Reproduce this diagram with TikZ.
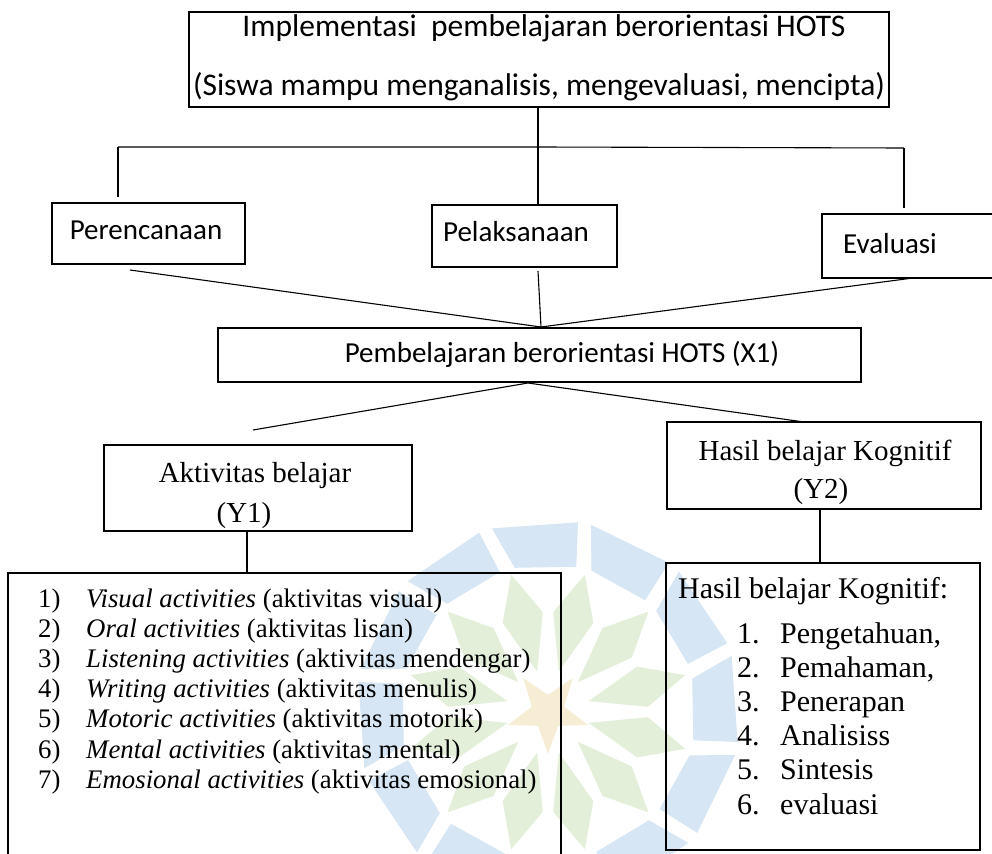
\documentclass[tikz,border=0pt]{standalone}
\usepackage{fontspec}
\setmainfont{Liberation Serif}
\newfontfamily\calibri{Carlito}
\usetikzlibrary{calc}
\definecolor{wmblue}{HTML}{D6E6F4}
\definecolor{wmgreen}{HTML}{E4EFDA}
\definecolor{wmstar}{HTML}{F7ECD4}
\begin{document}
\begin{tikzpicture}[x=1pt,y=-1pt,
  box/.style={draw=black, line width=1.1pt, inner sep=0pt, fill=none},
  boxb/.style={draw=black, line width=2pt, inner sep=0pt, fill=none},
  conn/.style={draw=black, line width=1.1pt},
  connb/.style={draw=black, line width=2pt},
  calt/.style={inner sep=0pt, anchor=base, font=\calibri\fontsize{31.5}{36}\selectfont},
  cal/.style={inner sep=0pt, anchor=base, font=\calibri\fontsize{29}{34}\selectfont},
  tms/.style={inner sep=0pt, anchor=base, font=\fontsize{29}{34}\selectfont},
  tmsl/.style={inner sep=0pt, anchor=base west, font=\fontsize{26.8}{30}\selectfont},
  tmsr/.style={inner sep=0pt, anchor=base west, font=\fontsize{30}{34}\selectfont}]
\clip (0,0) rectangle (992,853);
\fill[white] (0,0) rectangle (992,853);
% watermark logo
\coordinate (wc) at (548,712);
\foreach \k in {0,...,11}{
  \pgfmathsetmacro{\a}{90+30*\k}
  \fill[wmblue] ($(wc)+(\a-13:148)$) -- ($(wc)+(\a+11:148)$) -- ($(wc)+(\a+9:192)$) -- ($(wc)+(\a-17:192)$) -- cycle;
  \fill[wmgreen] ($(wc)+(\a+15:42)$) -- ($(wc)+(\a+3:100)$) -- ($(wc)+(\a+15:142)$) -- ($(wc)+(\a+27:100)$) -- cycle;
}
\fill[wmstar] ($(wc)+(90:42)$) \foreach \j in {1,...,9}{ -- ($(wc)+(90+36*\j:{mod(\j,2)==1 ? 17 : 42})$) } -- cycle;

% boxes
\node[box, minimum width=700, minimum height=95] (top) at (539,59.5) {};
\node[box, minimum width=193, minimum height=61] (per) at (148.5,233.5) {};
\node[box, minimum width=185, minimum height=62] (pel) at (524.5,236) {};
\node[box, minimum width=178, minimum height=64] (eva) at (911,246) {};
\node[box, minimum width=643, minimum height=54] (pemb) at (539.5,355) {};
\node[boxb, minimum width=308, minimum height=86] (akt) at (258,488) {};
\node[boxb, minimum width=314, minimum height=87] (has) at (824,465.5) {};
\node[boxb, minimum width=553, minimum height=297] (listl) at (284.5,721.5) {};
\node[boxb, minimum width=314, minimum height=287] (listr) at (823,706.5) {};

% texts
\node[calt] (t1) at (544,37) {Implementasi\ \ pembelajaran berorientasi HOTS};
\node[calt] (t2) at (539,96) {(Siswa mampu menganalisis, mengevaluasi, mencipta)};
\node[cal] (tper) at (146,239) {Perencanaan};
\node[cal] (tpel) at (516,241) {Pelaksanaan};
\node[cal] (teva) at (890,253) {Evaluasi};
\node[cal] (tpemb) at (562,362) {Pembelajaran berorientasi HOTS (X1)};
\node[tms] (takt1) at (255,482) {Aktivitas belajar};
\node[tms] (takt2) at (244,522) {(Y1)};
\node[tms] (thas1) at (825,460) {Hasil belajar Kognitif};
\node[tms] (thas2) at (821,498) {(Y2)};

\foreach \i/\t in {1/{\textit{Visual activities} (aktivitas visual)},
                   2/{\textit{Oral activities} (aktivitas lisan)},
                   3/{\textit{Listening activities} (aktivitas mendengar)},
                   4/{\textit{Writing activities} (aktivitas menulis)},
                   5/{\textit{Motoric activities} (aktivitas motorik)},
                   6/{\textit{Mental activities} (aktivitas mental)},
                   7/{\textit{Emosional activities} (aktivitas emosional)}}{
  \node[tmsl] (ln\i) at (38,{607+30.2*(\i-1)}) {\i)};
  \node[tmsl] (lt\i) at (86,{607+30.2*(\i-1)}) {\t};
}
\node[tmsr] (rhead) at (678,598) {Hasil belajar Kognitif:};
\foreach \i/\t in {1/{Pengetahuan,}, 2/{Pemahaman,}, 3/{Penerapan}, 4/{Analisiss}, 5/{Sintesis}, 6/{evaluasi}}{
  \node[tmsr] (rn\i) at (737,{643+34.2*(\i-1)}) {\i.};
  \node[tmsr] (rt\i) at (780,{643+34.2*(\i-1)}) {\t};
}

% connectors
\coordinate (hl) at (118,147);
\coordinate (hm) at (538,147);
\coordinate (hr) at (904,148);
\coordinate (pl) at (118,197);
\coordinate (er) at (904,208);
\draw[conn] (top.south -| hm) -- (pel.north -| hm);
\draw[conn] (hl) -- (hm) -- (hr);
\draw[conn] (hl) -- (pl);
\draw[conn] (hr) -- (er);
\coordinate (cv) at (541,327);
\coordinate (p1) at (130,270);
\coordinate (p2) at (538,271);
\coordinate (p3) at (913,278);
\draw[conn] (p1) -- (cv);
\draw[conn] (p2) -- (cv);
\draw[conn] (p3) -- (cv);
\coordinate (ap) at (528,383);
\coordinate (la) at (253,430);
\coordinate (ra) at (804,422);
\draw[conn] (la) -- (ap) -- (ra);
\draw[connb] (akt.south -| 247,0) -- (listl.north -| 247,0);
\draw[connb] (has.south -| 820,0) -- (listr.north -| 820,0);
\end{tikzpicture}
\end{document}
